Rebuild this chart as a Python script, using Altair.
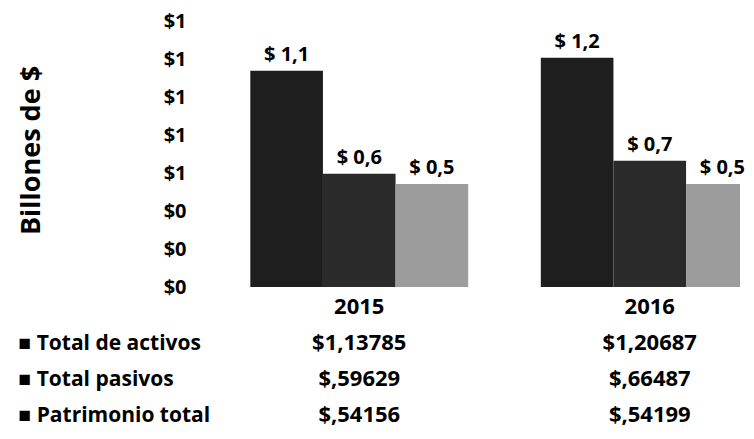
import altair as alt
import pandas as pd

years = ["2015", "2016"]
series = ["Total de activos", "Total pasivos", "Patrimonio total"]
values_2015 = [1.13785, 0.59629, 0.54156]
values_2016 = [1.20687, 0.66487, 0.54199]
bar_labels_2015 = ["$ 1,1", "$ 0,6", "$ 0,5"]
bar_labels_2016 = ["$ 1,2", "$ 0,7", "$ 0,5"]
table_2015 = ["$1,13785", "$,59629", "$,54156"]
table_2016 = ["$1,20687", "$,66487", "$,54199"]
y_ticks = [0, 0.2, 0.4, 0.6, 0.8, 1.0, 1.2, 1.4]
colors = ["#1e1e1e", "#2a2a2a", "#9c9c9c"]

rows = []
for yr, vals, labs in [("2015", values_2015, bar_labels_2015),
                       ("2016", values_2016, bar_labels_2016)]:
    for s, v, l in zip(series, vals, labs):
        rows.append({"year": yr, "series": s, "value": v, "label": l})
df = pd.DataFrame(rows)

HEADER = "header"
table_rows = []
for yr, tabs in [("2015", table_2015), ("2016", table_2016)]:
    table_rows.append({"year": yr, "row": HEADER, "text": yr})
    for s, t in zip(series, tabs):
        table_rows.append({"year": yr, "row": s, "text": t})
tdf = pd.DataFrame(table_rows)

FONT = "Open Sans"

xscale = alt.Scale(domain=years, range=[0, 581], paddingInner=0.25, paddingOuter=0.125)
xoff = alt.XOffset("series:N", sort=series, scale=alt.Scale(domain=series, paddingInner=0, paddingOuter=0))

y_enc = alt.Y("value:Q", scale=alt.Scale(domain=[0, 1.4], nice=False, zero=True),
              axis=alt.Axis(values=y_ticks, tickCount=len(y_ticks) + 2, format="$.0f",
                            title="Billones de $",
                            titleFont=FONT, titleFontSize=27, titleFontWeight="bold", titleColor="black",
                            titlePadding=118, titleAlign="center", titleY=129,
                            labelFont=FONT, labelFontSize=20, labelFontWeight="bold",
                            labelColor="black", labelPadding=28, labelOverlap=False,
                            domain=False, ticks=False, grid=False))

bars = alt.Chart(df).mark_bar(clip=True).encode(
    x=alt.X("year:N", scale=xscale, sort=years, axis=None),
    xOffset=xoff,
    y=y_enc,
    color=alt.Color("series:N", sort=series, scale=alt.Scale(domain=series, range=colors), legend=None),
)

texts = alt.Chart(df).mark_text(baseline="alphabetic", dy=-10, fontSize=20,
                                 fontWeight="bold", font=FONT, color="black").encode(
    x=alt.X("year:N", scale=xscale, sort=years, axis=None),
    xOffset=xoff,
    y=alt.Y("value:Q"),
    text="label:N",
)

top = alt.layer(bars, texts).properties(width=526, height=266)

row_order = [HEADER] + series
table = alt.Chart(tdf).mark_text(fontSize=22, fontWeight="bold", font=FONT, color="black").encode(
    x=alt.X("year:N", scale=xscale, sort=years, axis=None),
    y=alt.Y("row:N", sort=row_order, scale=alt.Scale(domain=row_order, padding=0.25, align=1),
            axis=alt.Axis(title=None, labelAlign="left", labelPadding=196, labelFontSize=21,
                          labelFontWeight="bold", labelFont=FONT, labelColor="black", labelLimit=400,
                          labelExpr="datum.value == 'header' ? '' : '\u25a0 ' + datum.label",
                          labelOverlap=False, domain=False, ticks=False, grid=False)),
    text="text:N",
).properties(width=526, height=126)

chart = alt.vconcat(top, table, spacing=2, bounds="flush").properties(
    padding={"left": 9, "top": 3, "right": 0, "bottom": 3}
).configure_view(strokeWidth=0)

chart.save("out.html", embed_options={"renderer": "svg", "actions": False})
